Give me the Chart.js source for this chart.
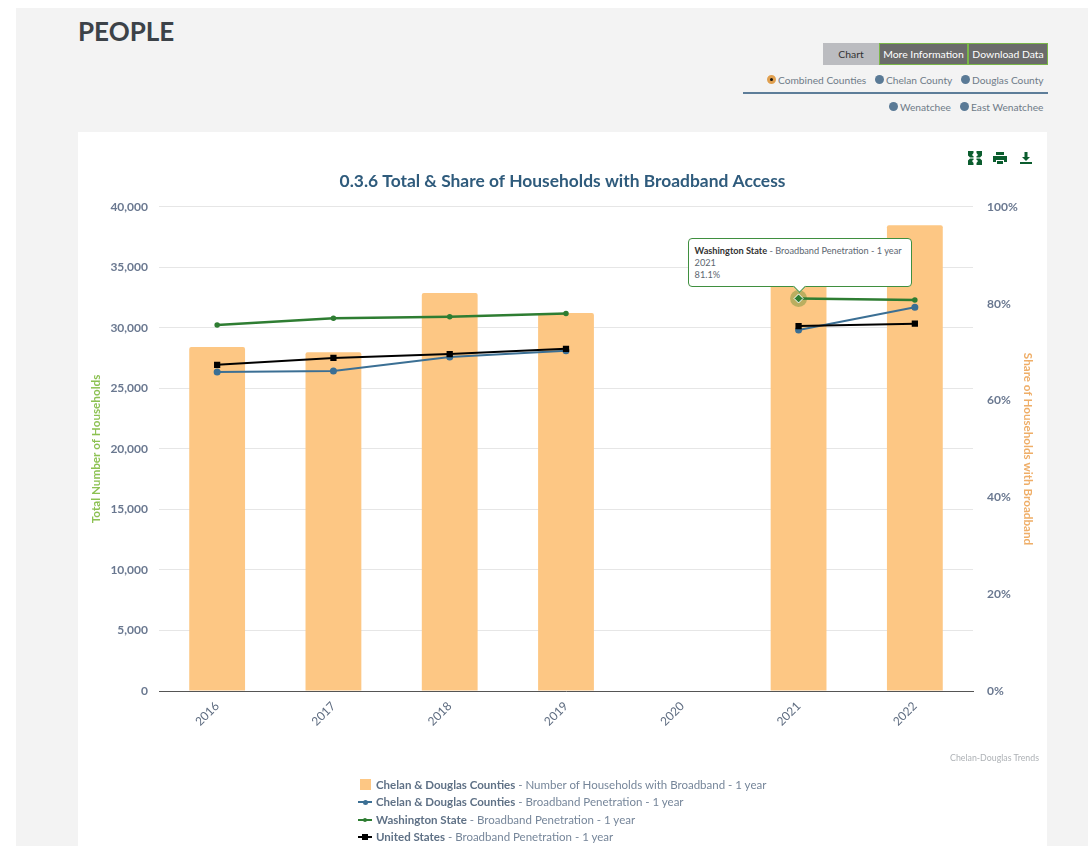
<!DOCTYPE html>
<html>
<head>
<meta charset="utf-8">
<title>People</title>
<script src="https://cdn.jsdelivr.net/npm/chart.js@4"></script>
<style>
  html, body { margin: 0; padding: 0; background: #fff; }
  body { width: 1088px; height: 846px; overflow: hidden; position: relative; font-family: Lato, sans-serif; }
  #page { position: absolute; left: 16px; top: 8px; width: 1072px; height: 838px; background: #f3f3f3; }
  #heading { position: absolute; left: 78px; top: 14px; margin: 0; font-size: 26px; line-height: 34px; font-weight: bold; color: #3c4248; }
  .btn { position: absolute; top: 43px; height: 22px; line-height: 22px; box-sizing: border-box; text-align: center; font-size: 10.4px; }
  .btn.off { background: #6b6b6b; color: #fff; border: 1px solid #7ab648; line-height: 20px; }
  .btn.on { background: #bbbcc0; color: #333; }
  .radio { position: absolute; font-size: 10.2px; line-height: 14px; color: #6f7b88; white-space: nowrap; }
  .dot { position: absolute; width: 9px; height: 9px; border-radius: 50%; background: #5a7a96; box-sizing: border-box; }
  .dot.sel { background: #111; border: 3px solid #e0a050; }
  #rule { position: absolute; left: 743px; top: 92px; width: 305px; height: 2px; background: #5d7d99; }
  #card { position: absolute; left: 78px; top: 132px; width: 969px; height: 714px; background: #fff; }
  #chart { position: absolute; left: 0; top: 0; }
  .icon { position: absolute; top: 18px; width: 16px; height: 16px; }
  #credit { position: absolute; right: 8px; top: 619px; font-size: 8.8px; line-height: 13px; color: #aeb2b6; }
  #legend { position: absolute; left: 280px; top: 644px; }
  .row { position: absolute; left: 0; height: 18px; line-height: 18px; font-size: 11.5px; color: #76869a; white-space: nowrap; padding-left: 18px; }
  .row b { color: #5f7186; }
  .swatch { position: absolute; left: 2px; top: 3px; width: 11px; height: 11px; }
  .stroke { position: absolute; left: 0; top: 8px; width: 14px; height: 2px; }
  .mark { position: absolute; }
  #tip { position: absolute; box-sizing: border-box; background: #fff; border: 1px solid #3f8f3f; border-radius: 4px; padding: 6px 8px 0 6px; font-size: 9.2px; line-height: 12px; color: #5c6670; white-space: nowrap; }
  #tip b { color: #333; }
  #tip i { position: absolute; left: 50%; bottom: -5px; width: 8px; height: 8px; margin-left: -5px; background: #fff; border-right: 1px solid #3f8f3f; border-bottom: 1px solid #3f8f3f; transform: rotate(45deg); }
</style>
</head>
<body>
<div id="page"></div>
<h1 id="heading">PEOPLE</h1>

<div class="btn on" style="left:823px;width:56px">Chart</div>
<div class="btn off" style="left:879px;width:89px">More Information</div>
<div class="btn off" style="left:968px;width:80px">Download Data</div>

<div class="dot sel" style="left:767px;top:75px"></div><div class="radio" style="left:778px;top:73px">Combined Counties</div>
<div class="dot" style="left:875px;top:75px"></div><div class="radio" style="left:886px;top:73px">Chelan County</div>
<div class="dot" style="left:961px;top:75px"></div><div class="radio" style="left:972px;top:73px">Douglas County</div>
<div id="rule"></div>
<div class="dot" style="left:889px;top:102px"></div><div class="radio" style="left:900px;top:100px">Wenatchee</div>
<div class="dot" style="left:960px;top:102px"></div><div class="radio" style="left:971px;top:100px">East Wenatchee</div>

<div id="card">
  <canvas id="chart" width="969" height="714"></canvas>

  <svg class="icon" style="left:889px" viewBox="0 0 16 16" fill="#0b5d2e">
    <path d="M1 1h5.500v2L5 5l2 2-1 .5H3L1 5.500zM15 1v4.500l-2 2h-3L9 7l2-2-1.500-2V1zM1 15v-4.500l2-2h3L7 9l-2 2 1.500 2v2zM15 15H9.500v-2L11 11 9 9l1-.5h3l2 2z"/>
  </svg>
  <svg class="icon" style="left:914px" viewBox="0 0 16 16" fill="#0b5d2e">
    <path d="M4 2h8v3H4zM1 6h14v6h-3v-2H4v2H1zM5 11h6v3H5z"/>
  </svg>
  <svg class="icon" style="left:940px" viewBox="0 0 16 16" fill="#0b5d2e">
    <path d="M6.500 2h3v5H12l-4 4-4-4h2.500zM2 12h12v2H2z"/>
  </svg>

  <div id="credit">Chelan-Douglas Trends</div>
  <div id="legend"></div>
  <div id="tip" style="display:none"></div>
</div>

<script>
const years = ['2016', '2017', '2018', '2019', '2020', '2021', '2022'];
const households = [28430, 28000, 32900, 31240, null, 35800, 38500];
const penetrationCounties = [65.9, 66.1, 69.0, 70.3, null, 74.6, 79.3];
const penetrationState = [75.6, 77.0, 77.3, 78.0, null, 81.1, 80.8];
const penetrationUS = [67.4, 68.8, 69.6, 70.7, null, 75.4, 75.9];

const seriesNames = ['Chelan & Douglas Counties', 'Chelan & Douglas Counties', 'Washington State', 'United States'];
const seriesMetrics = ['Number of Households with Broadband - 1 year', 'Broadband Penetration - 1 year', 'Broadband Penetration - 1 year', 'Broadband Penetration - 1 year'];
const seriesColors = ['#fdc784', '#3b6f94', '#2e7d32', '#000000'];

const titleText = '0.3.6 Total & Share of Households with Broadband Access';
const leftAxisTitle = 'Total Number of Households';
const rightAxisTitle = 'Share of Households with Broadband';

// dataset and point the page is showing the tooltip for
const activeDataset = 2;
const activeIndex = years.indexOf('2021');

Chart.defaults.font.family = 'Lato, sans-serif';
Chart.defaults.animation = false;

// halo behind the hovered point
const haloPlugin = {
  id: 'halo',
  beforeDatasetDraw: function (chart, args) {
    if (args.index !== activeDataset) {
      return;
    }
    const pt = chart.getDatasetMeta(activeDataset).data[activeIndex];
    const ctx = chart.ctx;
    ctx.save();
    ctx.fillStyle = 'rgba(120,150,60,0.5)';
    ctx.beginPath();
    ctx.arc(pt.x, pt.y, 8.5, 0, Math.PI * 2);
    ctx.fill();
    ctx.restore();
  }
};

function drawTip(context) {
  const tooltip = context.tooltip;
  const tip = document.getElementById('tip');
  if (tooltip.opacity === 0 || !tooltip.dataPoints) {
    tip.style.display = 'none';
    return;
  }
  const item = tooltip.dataPoints[0];
  const n = item.datasetIndex;
  tip.innerHTML = '<b>' + seriesNames[n] + '</b> - ' + seriesMetrics[n] + '<br>' + item.label + '<br>' + item.raw + '%<i></i>';
  tip.style.display = 'block';
  tip.style.width = '224px';
  tip.style.height = '49px';
  tip.style.left = (tooltip.caretX - 111) + 'px';
  tip.style.top = (tooltip.caretY - 60) + 'px';
}

const chart = new Chart(document.getElementById('chart').getContext('2d'), {
  data: {
    labels: years,
    datasets: [
      {
        type: 'bar',
        label: seriesNames[0],
        data: households,
        yAxisID: 'y',
        backgroundColor: seriesColors[0],
        barPercentage: 0.48,
        categoryPercentage: 1,
        borderRadius: 2,
        borderSkipped: 'bottom',
        order: 4
      },
      {
        type: 'line',
        label: seriesNames[1],
        data: penetrationCounties,
        yAxisID: 'y1',
        borderColor: seriesColors[1],
        backgroundColor: seriesColors[1],
        borderWidth: 2,
        pointStyle: 'circle',
        pointRadius: 2.5,
        order: 3
      },
      {
        type: 'line',
        label: seriesNames[2],
        data: penetrationState,
        yAxisID: 'y1',
        borderColor: seriesColors[2],
        backgroundColor: seriesColors[2],
        borderWidth: 2.5,
        pointStyle: years.map(function (y, i) { return i === activeIndex ? 'rectRot' : 'circle'; }),
        pointRadius: 1.5,
        pointHoverRadius: 4.5,
        pointHoverBorderWidth: 1,
        pointHoverBorderColor: '#ffffff',
        pointHoverBackgroundColor: seriesColors[2],
        order: 2
      },
      {
        type: 'line',
        label: seriesNames[3],
        data: penetrationUS,
        yAxisID: 'y1',
        borderColor: seriesColors[3],
        backgroundColor: seriesColors[3],
        borderWidth: 2,
        pointStyle: 'rect',
        pointRadius: 3,
        order: 1
      }
    ]
  },
  options: {
    responsive: false,
    events: [],
    plugins: {
      legend: { display: false },
      title: {
        display: true,
        text: titleText,
        color: '#2f5b7c',
        font: { size: 17.4, weight: 'bold' },
        padding: { top: 39, bottom: 15.1 }
      },
      tooltip: { enabled: false, external: drawTip }
    },
    scales: {
      x: {
        grid: { display: false, drawTicks: false },
        border: { color: '#555555', width: 1 },
        ticks: { color: '#5e6c80', font: { size: 12 }, minRotation: 45, maxRotation: 45, padding: 8 },
        afterFit: function (scale) { scale.height = 155; }
      },
      y: {
        position: 'left',
        min: 0,
        max: 40000,
        grid: { color: '#e6e6e6', drawTicks: false },
        border: { display: false },
        ticks: {
          stepSize: 5000,
          color: '#6a7890',
          font: { size: 12, weight: 'bold' },
          padding: 11,
          callback: function (v) { return v.toLocaleString('en-US'); }
        },
        title: { display: true, text: leftAxisTitle, color: '#8cc152', font: { size: 11.7, weight: 'bold' }, padding: { top: 11, bottom: 4 } },
        afterFit: function (scale) { scale.width = 81; }
      },
      y1: {
        position: 'right',
        min: 0,
        max: 100,
        grid: { display: false, drawTicks: false },
        border: { display: false },
        ticks: {
          stepSize: 20,
          color: '#6a7890',
          font: { size: 12, weight: 'bold' },
          padding: 14,
          callback: function (v) { return v + '%'; }
        },
        title: { display: true, text: rightAxisTitle, color: '#efae68', font: { size: 11.65, weight: 'bold' }, padding: { top: 12, bottom: 4 } },
        afterFit: function (scale) { scale.width = 74; }
      }
    }
  },
  plugins: [haloPlugin]
});

// keep the tooltip open on the Washington State point
const active = [{ datasetIndex: activeDataset, index: activeIndex }];
chart.setActiveElements(active);
chart.tooltip.setActiveElements(active, { x: 0, y: 0 });
chart.update();

// legend is html so the series name can be bold and the rest plain
const legend = document.getElementById('legend');
const rowTops = [0, 17, 34.5, 52];
const rowMarks = [null, 'circle', 'circle', 'rect'];
seriesNames.forEach(function (name, i) {
  const row = document.createElement('div');
  row.className = 'row';
  row.style.top = rowTops[i] + 'px';
  let html = '';
  if (i === 0) {
    html = '<span class="swatch" style="background:' + seriesColors[i] + '"></span>';
  } else {
    const size = rowMarks[i] === 'rect' ? 6 : (i === 2 ? 4 : 5);
    const radius = rowMarks[i] === 'rect' ? '0' : '50%';
    html = '<span class="stroke" style="background:' + seriesColors[i] + '"></span>' +
      '<span class="mark" style="left:' + (7 - size / 2) + 'px;top:' + (9 - size / 2) + 'px;width:' + size + 'px;height:' + size +
      'px;border-radius:' + radius + ';background:' + seriesColors[i] + '"></span>';
  }
  row.innerHTML = html + '<b>' + name.replace('&', '&amp;') + '</b> - ' + seriesMetrics[i];
  legend.appendChild(row);
});
</script>
</body>
</html>
